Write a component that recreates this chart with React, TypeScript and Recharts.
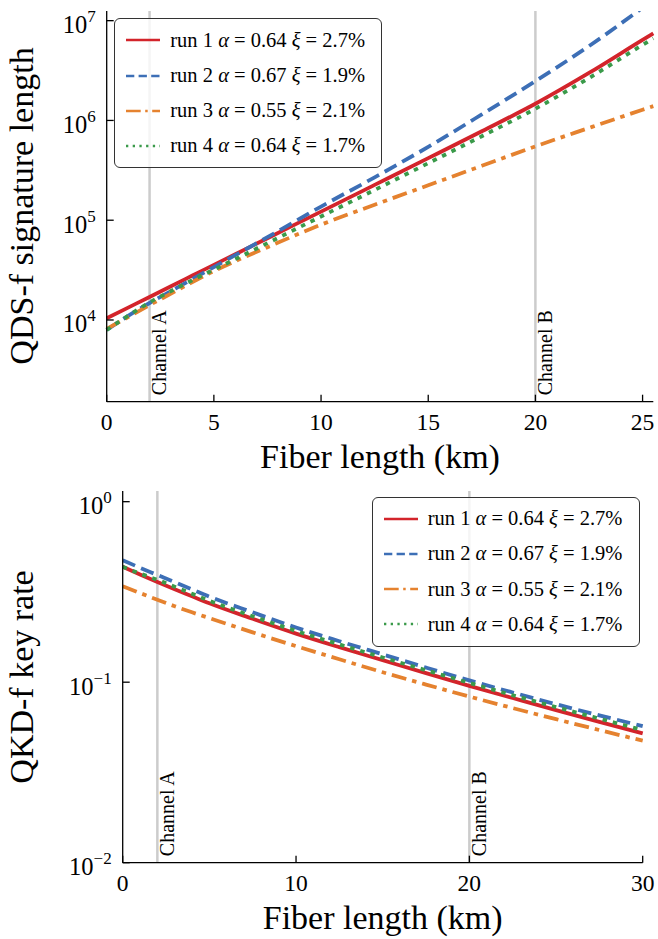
import React from 'react';
import { LineChart, Line, XAxis, YAxis, ReferenceLine, Legend } from 'recharts';

// top panel: QDS-f signature length vs fiber length (km)
const qdsLength = [0, 1, 2, 3, 4, 5, 6, 7.5, 10, 12.5, 15, 17.5, 20, 22.5, 25, 25.5];
const qdsRun1 = [1.04e4, 1.33e4, 1.7e4, 2.18e4, 2.79e4, 3.57e4, 4.56e4, 6.6e4, 1.22e5, 2.26e5, 4.19e5, 7.8e5, 1.47e6, 2.99e6, 6.41e6, 7.45e6];
const qdsRun2 = [7.94e3, 1.1e4, 1.48e4, 1.95e4, 2.57e4, 3.39e4, 4.47e4, 6.76e4, 1.37e5, 2.69e5, 5.43e5, 1.15e6, 2.48e6, 5.56e6, 1.35e7, 1.62e7];
const qdsRun3 = [8.13e3, 1.07e4, 1.41e4, 1.84e4, 2.4e4, 3.09e4, 3.89e4, 5.37e4, 9.02e4, 1.43e5, 2.24e5, 3.51e5, 5.5e5, 8.41e5, 1.28e6, 1.39e6];
const qdsRun4 = [7.94e3, 1.1e4, 1.5e4, 1.95e4, 2.51e4, 3.2e4, 4.07e4, 5.89e4, 1.09e5, 2.01e5, 3.73e5, 6.95e5, 1.31e6, 2.66e6, 5.72e6, 6.64e6];

// bottom panel: QKD-f key rate vs fiber length (km)
const qkdLength = [0, 1, 2, 3, 4, 5, 7.5, 10, 12.5, 15, 17.5, 20, 22.5, 25, 27.5, 30];
const qkdRun1 = [0.4355, 0.3945, 0.3589, 0.3273, 0.2992, 0.2735, 0.2244, 0.1858, 0.1563, 0.1324, 0.1122, 0.0955, 0.0817, 0.07, 0.0603, 0.0521];
const qkdRun2 = [0.4742, 0.4305, 0.3926, 0.3581, 0.3266, 0.2979, 0.2438, 0.2009, 0.1687, 0.1426, 0.1205, 0.1023, 0.0877, 0.0755, 0.0655, 0.0571];
const qkdRun3 = [0.3404, 0.3119, 0.2864, 0.2636, 0.2438, 0.2265, 0.1888, 0.1585, 0.134, 0.1135, 0.097, 0.0832, 0.0719, 0.0624, 0.0543, 0.0474];
const qkdRun4 = [0.4355, 0.3999, 0.369, 0.3381, 0.309, 0.2825, 0.2317, 0.1923, 0.1618, 0.1371, 0.1164, 0.0991, 0.0847, 0.0728, 0.0628, 0.0543];

const runAlpha = ['0.64', '0.67', '0.55', '0.64'];
const runXi = ['2.7', '1.9', '2.1', '1.7'];

const qdsXTicks = [0, 5, 10, 15, 20, 25];
const qdsYTicks = [1e4, 1e5, 1e6, 1e7];
const qkdXTicks = [0, 10, 20, 30];
const qkdYTicks = [1e-2, 1e-1, 1e0];

const channelA = 2;
const channelB = 20;

const FONT = '"Liberation Serif", "DejaVu Serif", serif';

const series = [
  { key: 'run1', color: '#d3242b', dash: undefined, legendDash: undefined },
  { key: 'run2', color: '#3d6fb6', dash: '13.5 6.5', legendDash: '8.3 4.3' },
  { key: 'run3', color: '#e5822f', dash: '15 6 4.5 6', legendDash: '14.7 4.5 2.5 4.5' },
  { key: 'run4', color: '#3a9a4a', dash: '4.5 6', legendDash: '2.3 4.4' },
];

const qdsData = qdsLength.map((x, i) => ({ x, run1: qdsRun1[i], run2: qdsRun2[i], run3: qdsRun3[i], run4: qdsRun4[i] }));
const qkdData = qkdLength.map((x, i) => ({ x, run1: qkdRun1[i], run2: qkdRun2[i], run3: qkdRun3[i], run4: qkdRun4[i] }));

const LogTick = ({ x, y, payload }: any) => {
  const exp = Math.round(Math.log10(payload.value));
  return (
    <g>
      <line x1={x} x2={x + 7} y1={y} y2={y} stroke="#000" strokeWidth={1.3} />
      <text x={x - 11} y={y + 12.5} textAnchor="end" fontSize={24.5} fill="#000" fontFamily={FONT}>
        10<tspan dy={-11} fontSize={17}>{exp < 0 ? `\u2212${-exp}` : exp}</tspan>
      </text>
    </g>
  );
};

const XTick = ({ x, y, payload }: any) => (
  <g>
    <line x1={x} x2={x} y1={y} y2={y - 7} stroke="#000" strokeWidth={1.3} />
    <text x={x} y={y + 28} textAnchor="middle" fontSize={23.5} fill="#000" fontFamily={FONT}>
      {payload.value}
    </text>
  </g>
);

const ChannelLabel = ({ viewBox, text }: any) => {
  const tx = viewBox.x + 16.5;
  const ty = viewBox.y + viewBox.height - 6.5;
  return (
    <text x={tx} y={ty} transform={`rotate(-90 ${tx} ${ty})`} fontSize={20} fill="#000" fontFamily={FONT}>
      {text}
    </text>
  );
};

const AxisTitle = ({ tx, ty, rotate, text }: any) => (
  <text
    x={tx}
    y={ty}
    transform={rotate ? `rotate(-90 ${tx} ${ty})` : undefined}
    textAnchor="middle"
    fontSize={34}
    fill="#000"
    fontFamily={FONT}
  >
    {text}
  </text>
);

const LegendBox = () => (
  <div
    style={{
      width: 268,
      height: 150,
      boxSizing: 'border-box',
      border: '1.3px solid #333',
      borderRadius: 6,
      background: 'rgba(255,255,255,0.8)',
      paddingTop: 3.6,
      fontFamily: FONT,
    }}
  >
    {series.map((s, i) => (
      <div key={s.key} style={{ display: 'flex', alignItems: 'center', height: 35.1 }}>
        <svg width={34} height={8} style={{ marginLeft: 11, flex: 'none' }}>
          <line x1={0} x2={34} y1={4} y2={4} stroke={s.color} strokeWidth={2.6} strokeDasharray={s.legendDash} />
        </svg>
        <span style={{ marginLeft: 10, fontSize: 20.5, whiteSpace: 'nowrap', color: '#000' }}>
          run {i + 1} <i>α</i> = {runAlpha[i]} <i>ξ</i> = {runXi[i]}%
        </span>
      </div>
    ))}
  </div>
);

const spine = { stroke: '#000', strokeWidth: 1.3 };

export default function App() {
  return (
    <div style={{ position: 'absolute', left: 0, top: 0, width: 658, height: 939, background: '#fff', fontFamily: FONT }}>
      <div style={{ position: 'absolute', left: 0, top: 0 }}>
        <LineChart width={658} height={480} data={qdsData} margin={{ top: 11, right: 4.7, bottom: 38.3, left: 46.7 }}>
          <XAxis
            dataKey="x"
            type="number"
            domain={[0, 25.5]}
            ticks={qdsXTicks}
            height={40}
            tickLine={false}
            tickSize={0}
            tickMargin={0}
            axisLine={spine}
            tick={(p: any) => <XTick {...p} />}
            label={<AxisTitle tx={380} ty={468} text="Fiber length (km)" />}
          />
          <XAxis xAxisId="top" orientation="top" type="number" domain={[0, 25.5]} height={0} tick={false} tickLine={false} axisLine={spine} />
          <YAxis
            type="number"
            scale="log"
            domain={[1517, 1.25e7]}
            allowDataOverflow
            ticks={qdsYTicks}
            width={60}
            tickLine={false}
            tickSize={0}
            tickMargin={0}
            axisLine={spine}
            tick={(p: any) => <LogTick {...p} />}
            label={<AxisTitle tx={33} ty={206} rotate text="QDS-f signature length" />}
          />
          <YAxis yAxisId="right" orientation="right" type="number" domain={[0, 1]} width={0} tick={false} tickLine={false} axisLine={spine} />
          <ReferenceLine x={channelA} zIndex={-50} stroke="#cccccc" strokeWidth={2.5} label={<ChannelLabel text="Channel A" />} />
          <ReferenceLine x={channelB} zIndex={-50} stroke="#cccccc" strokeWidth={2.5} label={<ChannelLabel text="Channel B" />} />
          {series.map((s) => (
            <Line
              key={s.key}
              dataKey={s.key}
              type="monotone"
              stroke={s.color}
              strokeWidth={3.8}
              strokeDasharray={s.dash}
              dot={false}
              isAnimationActive={false}
            />
          ))}
          <Legend
            verticalAlign="middle"
            align="center"
            layout="horizontal"
            wrapperStyle={{ left: 114.3, top: 18.3, width: 268, height: 150 }}
            content={() => <LegendBox />}
          />
        </LineChart>
      </div>
      <div style={{ position: 'absolute', left: 0, top: 480 }}>
        <LineChart width={658} height={459} data={qkdData} margin={{ top: 11, right: 15.3, bottom: 36.3, left: 62.7 }}>
          <XAxis
            dataKey="x"
            type="number"
            domain={[0, 30]}
            ticks={qkdXTicks}
            height={40}
            tickLine={false}
            tickSize={0}
            tickMargin={0}
            axisLine={spine}
            tick={(p: any) => <XTick {...p} />}
            label={<AxisTitle tx={382.7} ty={449} text="Fiber length (km)" />}
          />
          <XAxis xAxisId="top" orientation="top" type="number" domain={[0, 30]} height={0} tick={false} tickLine={false} axisLine={spine} />
          <YAxis
            type="number"
            scale="log"
            domain={[0.01, 1.146]}
            allowDataOverflow
            ticks={qkdYTicks}
            width={60}
            tickLine={false}
            tickSize={0}
            tickMargin={0}
            axisLine={spine}
            tick={(p: any) => <LogTick {...p} />}
            label={<AxisTitle tx={33} ty={197} rotate text="QKD-f key rate" />}
          />
          <YAxis yAxisId="right" orientation="right" type="number" domain={[0, 1]} width={0} tick={false} tickLine={false} axisLine={spine} />
          <ReferenceLine x={channelA} zIndex={-50} stroke="#cccccc" strokeWidth={2.5} label={<ChannelLabel text="Channel A" />} />
          <ReferenceLine x={channelB} zIndex={-50} stroke="#cccccc" strokeWidth={2.5} label={<ChannelLabel text="Channel B" />} />
          {series.map((s) => (
            <Line
              key={s.key}
              dataKey={s.key}
              type="monotone"
              stroke={s.color}
              strokeWidth={3.8}
              strokeDasharray={s.dash}
              dot={false}
              isAnimationActive={false}
            />
          ))}
          <Legend
            verticalAlign="middle"
            align="center"
            layout="horizontal"
            wrapperStyle={{ left: 371.7, top: 16.7, width: 268, height: 153 }}
            content={() => <LegendBox />}
          />
        </LineChart>
      </div>
    </div>
  );
}
